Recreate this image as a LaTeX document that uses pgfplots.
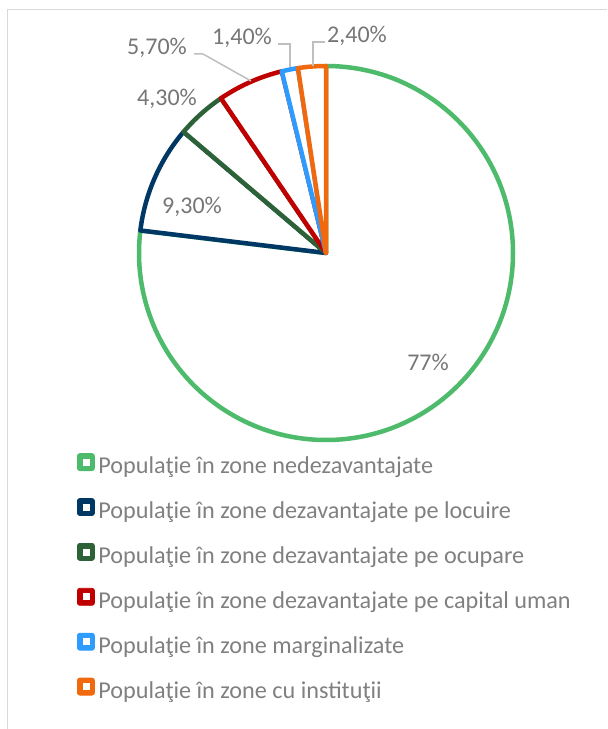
\documentclass[border=0pt]{standalone}
\usepackage{pgfplots}
\pgfplotsset{compat=1.18}
\usepackage{fontspec}
\setmainfont{Carlito}
\definecolor{cA}{RGB}{77,187,107}
\definecolor{cB}{RGB}{0,56,101}
\definecolor{cC}{RGB}{45,98,56}
\definecolor{cD}{RGB}{192,0,0}
\definecolor{cE}{RGB}{46,155,255}
\definecolor{cF}{RGB}{240,105,15}
\definecolor{lbl}{RGB}{118,118,118}
\definecolor{lgd}{RGB}{128,128,128}
\definecolor{frm}{RGB}{217,217,217}
\definecolor{lead}{RGB}{191,191,191}
\pgfplotsset{sq/.style={legend image code/.code={%
  \fill[#1,rounded corners=1.2pt] (0pt,-1.4pt) rectangle (8.5pt,7.1pt);
  \fill[white] (2.75pt,1.35pt) rectangle (5.75pt,4.35pt);}}}
\begin{document}
\begin{tikzpicture}
\begin{axis}[name=ax,x=0.5pt,y=0.5pt,xmin=0,xmax=607,ymin=0,ymax=729,
  hide axis,clip=false,
  legend cell align=left,
  legend style={at={(axis cs:77,275.8)},anchor=north west,draw=none,fill=none,
    inner sep=0pt,outer sep=0pt,row sep=9.65pt,
    font=\fontsize{12.1}{14}\selectfont,text=lgd,
    nodes={inner sep=0pt,text height=8.5pt,text depth=2.5pt},
    /tikz/every odd column/.append style={column sep=1.8pt}},
]
\path (axis cs:0,0) rectangle (axis cs:607,729);
\draw[frm,line width=0.75pt] (axis cs:7.5,0) -- (axis cs:7.5,719.5) -- (axis cs:607,719.5);
\def\tot{100.1}
\def\cum{0}
\foreach \v/\c in {77/cA,9.3/cB,4.3/cC,5.7/cD,1.4/cE,2.4/cF}{
  \pgfmathsetmacro\a{90-(\cum/\tot)*360}
  \pgfmathsetmacro\b{90-((\cum+\v)/\tot)*360}
  \edef\tmp{\noexpand\filldraw[fill=white,draw=\c,line width=2.25pt,line join=round]
    (axis cs:326,476) -- ++(\a:93.5pt) arc[start angle=\a,end angle=\b,radius=93.5pt] -- cycle;}
  \tmp
  \pgfmathsetmacro\n{\cum+\v}
  \xdef\cum{\n}
}
% leader lines
\draw[lead,line width=0.75pt] (axis cs:194,675) -- (axis cs:203,675) -- (axis cs:251,648);
\draw[lead,line width=0.75pt] (axis cs:278,685) -- (axis cs:290,685) -- (axis cs:290,662);
\draw[lead,line width=0.75pt] (axis cs:325,687) -- (axis cs:313,687) -- (axis cs:313,663);
% data labels
\begin{scope}[every node/.style={text=lbl,font=\fontsize{12}{14}\selectfont,inner sep=0pt}]
\node at (axis cs:157,681) {5,70\%};
\node at (axis cs:242,691) {1,40\%};
\node at (axis cs:357,693) {2,40\%};
\node at (axis cs:167,630) {4,30\%};
\node at (axis cs:192,522) {9,30\%};
\node at (axis cs:428,367) {77\%};
\end{scope}
\addlegendimage{sq=cA}
\addlegendentry{Populaţie în zone nedezavantajate}
\addlegendimage{sq=cB}
\addlegendentry{Populaţie în zone dezavantajate pe locuire}
\addlegendimage{sq=cC}
\addlegendentry{Populaţie în zone dezavantajate pe ocupare}
\addlegendimage{sq=cD}
\addlegendentry{Populaţie în zone dezavantajate pe capital uman}
\addlegendimage{sq=cE}
\addlegendentry{Populaţie în zone marginalizate}
\addlegendimage{sq=cF}
\addlegendentry{Populaţie în zone cu instituţii}
\end{axis}
\pgfresetboundingbox
\path[use as bounding box] (ax.south west) rectangle (ax.north east);
\end{tikzpicture}
\end{document}
